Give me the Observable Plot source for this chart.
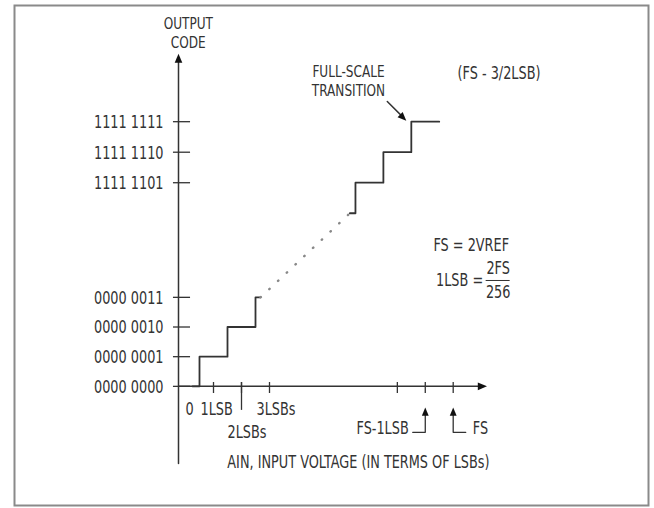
<!DOCTYPE html>
<html><head><meta charset="utf-8">
<script src="https://cdn.jsdelivr.net/npm/d3@7"></script>
<script src="https://cdn.jsdelivr.net/npm/@observablehq/plot@0.6"></script>
<style>body{margin:0;background:#fff}</style>
</head><body><div id="chart"></div>
<script>
// Output codes (y) and their tick labels
const codeTicks = [0, 1, 2, 3, 253, 254, 255];
const codeLabels = ["0000 0000", "0000 0001", "0000 0010", "0000 0011", "1111 1101", "1111 1110", "1111 1111"];
// Input voltage ticks (in LSBs); FS = 256 LSB
const lsbTicks = [1, 2, 3, 254, 255, 256];
const lsbLabelAt = [1, 3];
const lsbLabelText = ["1LSB", "3LSBs"];
const lsbLabel2At = [2];
const lsbLabel2Text = ["2LSBs"];
// Transfer function (staircase) – lower and upper ends
const lowStepX = [0.25, 0.5, 1.5, 2.5, 2.68];
const lowStepCode = [0, 1, 2, 3, 3];
const highStepX = [252.3, 252.5, 253.5, 254.5, 255.5];
const highStepCode = [252, 253, 254, 255, 255];
// Dotted continuation between the two ends
const gapX = [2.68, 252.3];
const gapCode = [3, 252];

const ink = "#333";
const font = "'DejaVu Sans Condensed','DejaVu Sans',sans-serif";

// broken (piecewise) axes: both ends of the 8-bit range are shown, the middle is compressed
const xBreak = d3.scaleLinear().domain([-0.25, 4, 252, 257.3]).range([178, 297, 341, 489]);
const yBreak = d3.scaleLinear().domain([-2.6, 3.5, 251.5, 257.3]).range([463, 282, 228, 51]);

function arrowHead(angleDeg) {
  const a = angleDeg * Math.PI / 180, c = Math.cos(a), s = Math.sin(a);
  const rot = (x, y) => [x * c - y * s, x * s + y * c];
  return {
    draw(ctx, size) {
      const r = Math.sqrt(size / Math.PI);
      const p = [[0, 0], [-0.95 * r, 2.3 * r], [0.95 * r, 2.3 * r]].map(([x, y]) => rot(x, y));
      ctx.moveTo(p[0][0], p[0][1]);
      ctx.lineTo(p[1][0], p[1][1]);
      ctx.lineTo(p[2][0], p[2][1]);
      ctx.closePath();
    }
  };
}

const low = lowStepX.map((x, i) => ({x, y: lowStepCode[i]}));
const high = highStepX.map((x, i) => ({x, y: highStepCode[i]}));
const gap = gapX.map((x, i) => ({x, y: gapCode[i]}));

const chart = Plot.plot({
  width: 654,
  height: 508,
  marginLeft: 14, marginTop: 5, marginRight: 6, marginBottom: 3,
  style: {fontFamily: font, fontSize: "17px", color: ink, background: "#fff"},
  x: {axis: null, transform: xBreak, domain: [14, 648], range: [14, 648]},
  y: {axis: null, transform: yBreak, domain: [505, 5], range: [505, 5]},
  marks: [
    Plot.frame({stroke: "#8a8a8a", strokeWidth: 2}),
    // axes
    Plot.line([{x: -0.25, y: -2.6}, {x: -0.25, y: 257.0}], {x: "x", y: "y", stroke: ink, strokeWidth: 1.5}),
    Plot.line([{x: -0.25, y: 0}, {x: 257.0, y: 0}], {x: "x", y: "y", stroke: ink, strokeWidth: 1.5}),
    Plot.dot([{x: -0.25, y: 257.23}], {x: "x", y: "y", r: 4, symbol: arrowHead(0), fill: "#111", stroke: "none"}),
    Plot.dot([{x: 257.21, y: 0}], {x: "x", y: "y", r: 4, symbol: arrowHead(90), fill: "#111", stroke: "none"}),
    // y ticks and labels
    Plot.ruleY(codeTicks, {y: d => d, x1: -0.43, x2: 0.18, stroke: ink, strokeWidth: 1.3}),
    Plot.text(codeTicks, {x: -0.25, y: d => d, text: (d, i) => codeLabels[i], textAnchor: "end", dx: -15, dy: 1, fill: ink}),
    // x ticks
    Plot.ruleX(lsbTicks, {x: d => d, y1: -0.24, y2: 0.13, stroke: ink, strokeWidth: 1.3}),
    Plot.ruleX([2], {x: d => d, y1: -0.81, y2: 0.13, stroke: ink, strokeWidth: 1.3}),
    Plot.text(["0"], {x: 0, y: 0, text: d => d, textAnchor: "start", dy: 23, fill: ink}),
    Plot.text(lsbLabelAt, {x: d => d, y: 0, text: (d, i) => lsbLabelText[i], textAnchor: "start", dx: -13, dy: 23, fill: ink}),
    Plot.text(lsbLabel2At, {x: d => d, y: 0, text: (d, i) => lsbLabel2Text[i], textAnchor: "start", dx: -14, dy: 46, fill: ink}),
    // FS-1LSB and FS pointers
    Plot.line([{x: 254.55, y: -1.55}, {x: 255, y: -1.55}, {x: 255, y: -0.85}], {x: "x", y: "y", stroke: ink, strokeWidth: 1.3}),
    Plot.line([{x: 256, y: -0.85}, {x: 256, y: -1.55}, {x: 256.45, y: -1.55}], {x: "x", y: "y", stroke: ink, strokeWidth: 1.3}),
    Plot.dot([{x: 255, y: -0.71}, {x: 256, y: -0.71}], {x: "x", y: "y", r: 3.6, symbol: arrowHead(0), fill: "#111", stroke: "none"}),
    Plot.text(["FS-1LSB"], {x: 254.55, y: -1.55, text: d => d, textAnchor: "end", dx: -4, dy: -4, fill: ink}),
    Plot.text(["FS"], {x: 256.45, y: -1.55, text: d => d, textAnchor: "start", dx: 7, dy: -4, fill: ink}),
    Plot.text(["AIN, INPUT VOLTAGE (IN TERMS OF LSBs)"], {x: 257.3, y: -2.6, text: d => d, textAnchor: "end", dy: -1, fill: ink}),
    // y axis title
    Plot.text(["OUTPUT"], {x: 0.1, y: 257.23, text: d => d, textAnchor: "middle", fontSize: 16, dy: -29.5, fill: ink}),
    Plot.text(["CODE"], {x: 0.1, y: 257.23, text: d => d, textAnchor: "middle", fontSize: 16, dy: -10.5, fill: ink}),
    // staircase
    Plot.line(low, {x: "x", y: "y", curve: "step-after", stroke: ink, strokeWidth: 1.8}),
    Plot.line(high, {x: "x", y: "y", curve: "step-after", stroke: ink, strokeWidth: 1.8}),
    Plot.line(gap, {x: "x", y: "y", stroke: "#888", strokeWidth: 2.4, strokeDasharray: "0.5,11.5", strokeLinecap: "round"}),
    // full-scale transition annotation
    Plot.text(["FULL-SCALE"], {x: 252.25, y: 256.31, text: d => d, textAnchor: "middle", fontSize: 16, dy: -9.5, fill: ink}),
    Plot.text(["TRANSITION"], {x: 252.25, y: 256.31, text: d => d, textAnchor: "middle", fontSize: 16, dy: 9.5, fill: ink}),
    Plot.line([{x: 253.64, y: 255.66}, {x: 254.2, y: 255.15}], {x: "x", y: "y", stroke: ink, strokeWidth: 1.5}),
    Plot.dot([{x: 254.32, y: 255.03}], {x: "x", y: "y", r: 3.8, symbol: arrowHead(135), fill: "#111", stroke: "none"}),
    Plot.text(["(FS - 3/2LSB)"], {x: 257.64, y: 256.57, text: d => d, textAnchor: "middle", fill: ink}),
    // formula
    Plot.text(["FS = 2VREF"], {x: 258.0, y: 173.4, text: d => d, textAnchor: "end", fill: ink}),
    Plot.ruleY([12.7], {x1: 257.18, x2: 258.04, stroke: ink, strokeWidth: 1}),
    Plot.text(["1LSB ="], {x: 257.18, y: 12.7, text: d => d, textAnchor: "end", dx: -3, fill: ink}),
    Plot.text(["2FS"], {x: 257.61, y: 12.7, text: d => d, textAnchor: "middle", dy: -12, fill: ink}),
    Plot.text(["256"], {x: 257.61, y: 12.7, text: d => d, textAnchor: "middle", dy: 12, fill: ink})
  ]
});
document.getElementById("chart").appendChild(chart);
// condensed lettering like the original (narrow, tall type)
chart.querySelectorAll("text").forEach(t => {
  const parts = t.querySelectorAll("tspan");
  (parts.length ? Array.from(parts) : [t]).forEach(el => {
    const L = el.getComputedTextLength();
    if (L > 0) {
      el.setAttribute("textLength", (L * 0.84).toFixed(1));
      el.setAttribute("lengthAdjust", "spacingAndGlyphs");
    }
  });
});
</script>
</body></html>
